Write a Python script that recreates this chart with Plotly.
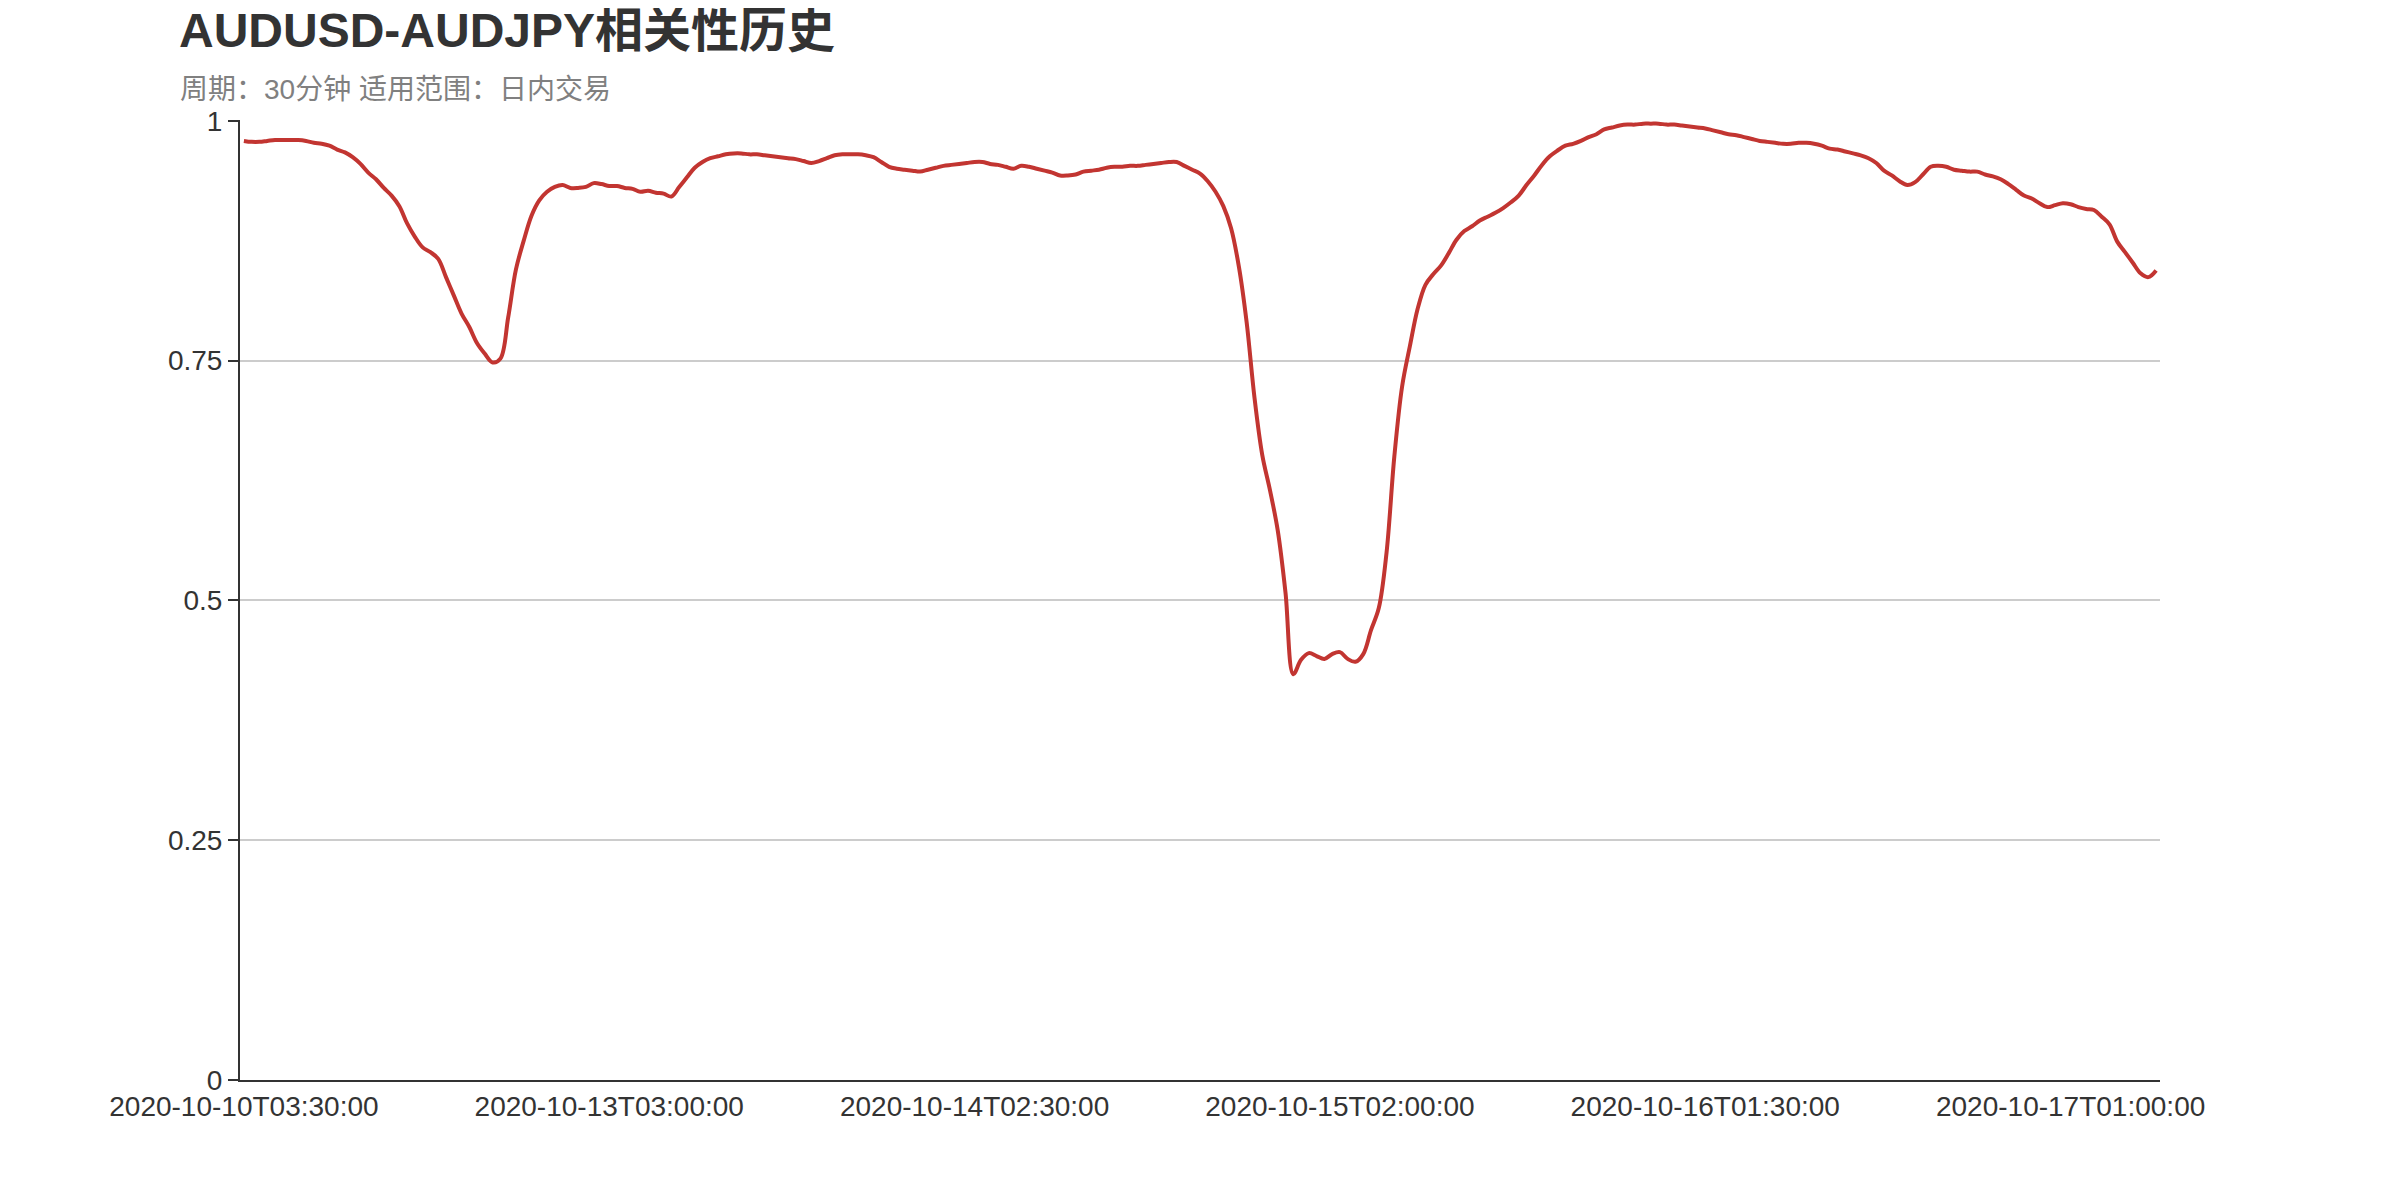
import pandas as pd
import plotly.graph_objects as go

# time axis: last bar of the previous week, then 30-minute bars from Monday
first_bar = ["2020-10-10T03:30:00"]
week_bars = pd.date_range("2020-10-12T04:00:00", periods=246, freq="30min")
categories = first_bar + list(week_bars.strftime("%Y-%m-%dT%H:%M:%S"))

correlation = [
    0.979, 0.978, 0.978, 0.979, 0.980, 0.980, 0.980, 0.980, 0.979, 0.977,
    0.976, 0.974, 0.970, 0.967, 0.962, 0.955, 0.946, 0.939, 0.930, 0.922,
    0.911, 0.893, 0.879, 0.868, 0.863, 0.856, 0.837, 0.818, 0.799, 0.785,
    0.768, 0.757, 0.748, 0.752, 0.795, 0.845, 0.875, 0.901, 0.917, 0.926,
    0.931, 0.933, 0.930, 0.930, 0.931, 0.935, 0.934, 0.932, 0.932, 0.930,
    0.929, 0.926, 0.927, 0.925, 0.924, 0.921, 0.931, 0.941, 0.951, 0.957,
    0.961, 0.963, 0.965, 0.966, 0.966, 0.965, 0.965, 0.964, 0.963, 0.962,
    0.961, 0.960, 0.958, 0.956, 0.958, 0.961, 0.964, 0.965, 0.965, 0.965,
    0.964, 0.962, 0.957, 0.952, 0.950, 0.949, 0.948, 0.947, 0.949, 0.951,
    0.953, 0.954, 0.955, 0.956, 0.957, 0.957, 0.955, 0.954, 0.952, 0.950,
    0.953, 0.952, 0.950, 0.948, 0.946, 0.943, 0.943, 0.944, 0.947, 0.948,
    0.949, 0.951, 0.952, 0.952, 0.953, 0.953, 0.954, 0.955, 0.956, 0.957,
    0.957, 0.953, 0.949, 0.945, 0.937, 0.926, 0.911, 0.888, 0.848, 0.790,
    0.712, 0.652, 0.615, 0.573, 0.508, 0.423, 0.438, 0.445, 0.442, 0.439,
    0.444, 0.446, 0.439, 0.436, 0.444, 0.469, 0.492, 0.550, 0.650, 0.723,
    0.765, 0.804, 0.829, 0.840, 0.849, 0.862, 0.876, 0.885, 0.890, 0.896,
    0.900, 0.904, 0.909, 0.915, 0.922, 0.933, 0.943, 0.954, 0.963, 0.969,
    0.974, 0.976, 0.979, 0.983, 0.986, 0.991, 0.993, 0.995, 0.996, 0.996,
    0.997, 0.997, 0.997, 0.996, 0.996, 0.995, 0.994, 0.993, 0.992, 0.990,
    0.988, 0.986, 0.985, 0.983, 0.981, 0.979, 0.978, 0.977, 0.976, 0.976,
    0.977, 0.977, 0.976, 0.974, 0.971, 0.970, 0.968, 0.966, 0.964, 0.961,
    0.956, 0.948, 0.943, 0.937, 0.933, 0.936, 0.944, 0.952, 0.953, 0.952,
    0.949, 0.948, 0.947, 0.947, 0.944, 0.942, 0.939, 0.934, 0.928, 0.922,
    0.919, 0.914, 0.910, 0.912, 0.914, 0.913, 0.910, 0.908, 0.907, 0.900,
    0.892, 0.874, 0.863, 0.852, 0.841, 0.837, 0.844,
]

x_tick_labels = categories[::47]
y_ticks = [0, 0.25, 0.5, 0.75, 1]
y_tick_labels = ["0", "0.25", "0.5", "0.75", "1"]

title_text = "AUDUSD-AUDJPY相关性历史"
subtitle_text = "周期：30分钟 适用范围：日内交易"

font_family = "Liberation Sans, Noto Sans CJK SC, sans-serif"

# the page body adds an 8px offset, so the figure is 8px smaller
fig_w, fig_h = 2392, 1192

fig = go.Figure()
fig.add_trace(go.Scatter(
    x=categories[:len(correlation)],
    y=correlation,
    mode="lines",
    line=dict(color="#c23531", width=4, shape="spline"),
    hoverinfo="x+y",
))

fig.update_layout(
    width=fig_w,
    height=fig_h,
    autosize=False,
    margin=dict(l=232, r=240, t=112, b=120),
    paper_bgcolor="white",
    plot_bgcolor="white",
    showlegend=False,
    font=dict(family=font_family, size=28, color="#333"),
    title=dict(
        text="<b>" + title_text + "</b>",
        font=dict(family=font_family, size=48, color="#333"),
        xref="container", x=171 / fig_w, xanchor="left",
        yref="container", y=1 - 5 / fig_h, yanchor="top",
    ),
)

fig.add_annotation(
    text=subtitle_text,
    xref="paper", x=(170 - 232) / 1920, xanchor="left",
    yref="paper", y=(1072 - 99) / 960, yanchor="bottom",
    showarrow=False,
    font=dict(family=font_family, size=28, color="#808080"),
)

fig.update_xaxes(
    type="category",
    range=[-0.5, len(categories) - 0.5],
    tickmode="array",
    tickvals=x_tick_labels,
    ticktext=x_tick_labels,
    showgrid=False,
    showline=True,
    linecolor="#333",
    linewidth=2,
    ticks="",
    tickfont=dict(size=28, color="#333"),
)

fig.update_yaxes(
    range=[0, 1.0008],
    tickmode="array",
    tickvals=y_ticks,
    ticktext=y_tick_labels,
    showgrid=True,
    gridcolor="#ccc",
    gridwidth=2,
    zeroline=False,
    showline=True,
    linecolor="#333",
    linewidth=2,
    ticks="outside",
    ticklen=10,
    tickwidth=2,
    tickcolor="#333",
    tickfont=dict(size=28, color="#333"),
)

fig.write_html("out.html")
